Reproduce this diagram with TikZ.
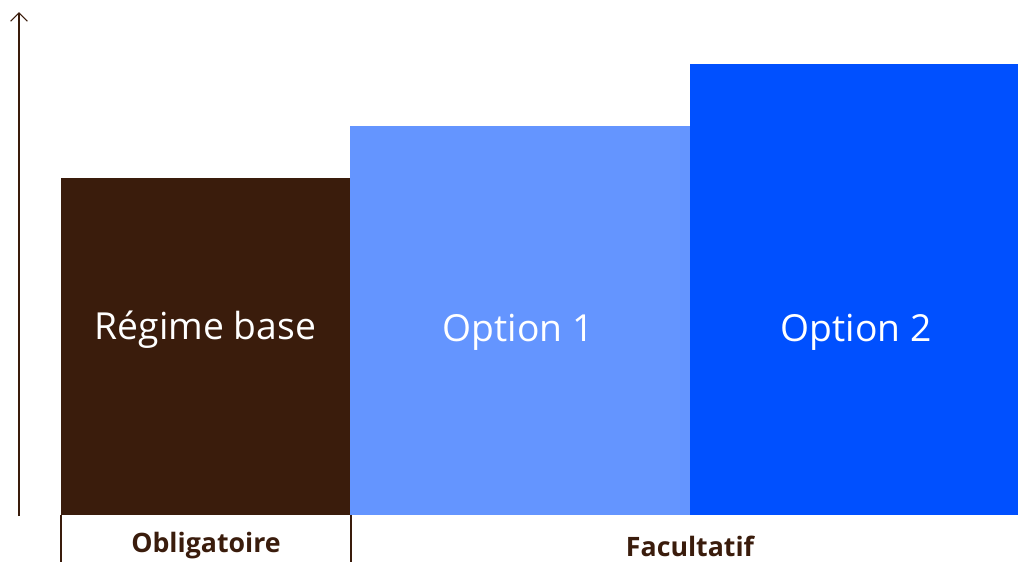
\documentclass[tikz,border=0pt]{standalone}
\usepackage{fontspec}
\setmainfont{Open Sans}
\usetikzlibrary{arrows.meta}

\definecolor{cocoa}{HTML}{3A1C0C}
\definecolor{skyblue}{HTML}{6495FF}
\definecolor{royal}{HTML}{0050FF}

\begin{document}
\begin{tikzpicture}[
  x=0.025cm, y=-0.025cm,
  barlabel/.style={text=white, font=\fontsize{26.5}{31}\selectfont},
  grouplabel/.style={text=cocoa, font=\bfseries\fontsize{19}{22}\selectfont},
  axis/.style={cocoa, line width=0.8pt, -{Straight Barb[length=6pt, width=12pt]}},
  tick/.style={cocoa, line width=0.8pt}
]
\useasboundingbox (0,0) rectangle (1018,562);

% stacked bars
\fill[cocoa] (61,178) rectangle (350,515);
\fill[skyblue] (350,126) rectangle (690,515);
\fill[royal] (690,64) rectangle (1018,515);

\node[barlabel] (base) at (205.5,330) {Régime base};
\node[barlabel] (opt1) at (518,332) {Option 1};
\node[barlabel] (opt2) at (856,332) {Option 2};

% vertical axis
\coordinate (origin) at (19,516);
\coordinate (top) at (19,12);
\draw[axis] (origin) -- (top);

% group brackets below the bars
\coordinate (t1a) at (61,515);
\coordinate (t1b) at (61,562);
\coordinate (t2a) at (351,515);
\coordinate (t2b) at (351,562);
\draw[tick] (t1a) -- (t1b);
\draw[tick] (t2a) -- (t2b);

\node[grouplabel] (oblig) at (206,546) {Obligatoire};
\node[grouplabel] (facult) at (690,546) {Facultatif};

\end{tikzpicture}
\end{document}
